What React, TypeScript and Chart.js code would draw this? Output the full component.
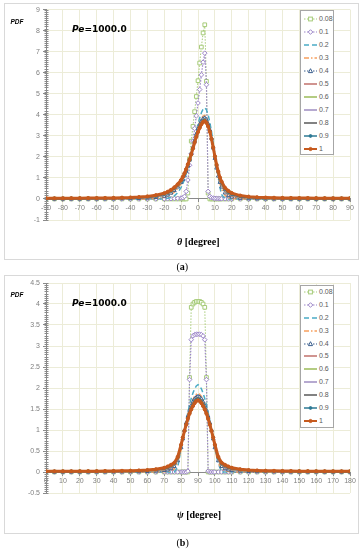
import React, { useEffect, useRef } from "react";
import { Chart, registerables } from "chart.js";

Chart.register(...registerables);

// ---------- data ----------
const seriesLabels = ["0.08", "0.1", "0.2", "0.3", "0.4", "0.5", "0.6", "0.7", "0.8", "0.9", "1"];

// panel (a): theta [degree]
const thetaDeg = [-90, -85, -80, -75, -70, -65, -60, -55, -50, -45, -40, -35, -30, -25, -20,
  -18, -16, -14, -12, -10,
  -9, -8, -7, -6, -5, -4, -3, -2, -1, 0, 1, 2, 3, 4, 5, 6, 7, 8, 9, 10, 11, 12, 13, 14,
  16, 18, 20,
  25, 30, 35, 40, 45, 50, 55, 60, 65, 70, 75, 80, 85, 90];

const thetaS008 = [0, 0, 0, 0, 0, 0, 0, 0, 0, 0, 0, 0, 0, 0, 0,
  0, 0, 0, 0, 0,
  0, 0, 0, 0.28, 1.9, 2.75, 3.45, 4.15, 4.87, 5.62, 6.46, 7.22, 7.89, 8.28, 5.59, 0.28, 0, 0, 0, 0, 0, 0, 0, 0,
  0, 0, 0,
  0, 0, 0, 0, 0, 0, 0, 0, 0, 0, 0, 0, 0, 0];
const thetaS01 = [0, 0, 0, 0, 0, 0, 0, 0, 0, 0, 0, 0, 0, 0, 0.005,
  0.008, 0.012, 0.02, 0.03, 0.045,
  0.06, 0.12, 0.36, 0.9, 1.6, 2.15, 2.75, 3.35, 3.95, 4.56, 5.2, 5.9, 6.5, 6.93, 5.43, 0.36, 0.12, 0.06, 0.04, 0.03, 0.02, 0.015, 0.01, 0.008,
  0.005, 0, 0,
  0, 0, 0, 0, 0, 0, 0, 0, 0, 0, 0, 0, 0, 0];
const thetaS02 = [0, 0, 0, 0, 0, 0, 0, 0, 0, 0, 0, 0, 0, 0, 0.01,
  0.03, 0.07, 0.15, 0.3, 0.55,
  0.72, 0.93, 1.18, 1.47, 1.79, 2.13, 2.5, 2.87, 3.23, 3.56, 3.85, 4.1, 4.27, 4.33, 4.24, 4.0, 3.64, 3.2, 2.68, 2.12, 1.55, 1.02, 0.55, 0.2,
  0.02, 0, 0,
  0, 0, 0, 0, 0, 0, 0, 0, 0, 0, 0, 0, 0, 0];
const thetaS03 = [0, 0, 0, 0, 0, 0, 0, 0, 0, 0, 0, 0, 0.005, 0.02, 0.07,
  0.12, 0.2, 0.32, 0.5, 0.73,
  0.88, 1.07, 1.3, 1.56, 1.85, 2.16, 2.49, 2.82, 3.14, 3.42, 3.65, 3.83, 3.94, 3.97, 3.88, 3.66, 3.35, 2.95, 2.46, 1.95, 1.46, 1.05, 0.72, 0.47,
  0.18, 0.06, 0.02,
  0, 0, 0, 0, 0, 0, 0, 0, 0, 0, 0, 0, 0, 0];
const thetaS04 = [0.002, 0.002, 0.003, 0.003, 0.004, 0.005, 0.006, 0.008, 0.01, 0.013, 0.018, 0.026, 0.04, 0.07, 0.13,
  0.19, 0.28, 0.4, 0.57, 0.78,
  0.92, 1.1, 1.32, 1.57, 1.85, 2.15, 2.46, 2.78, 3.08, 3.33, 3.55, 3.71, 3.81, 3.85, 3.77, 3.57, 3.28, 2.89, 2.42, 1.93, 1.47, 1.09, 0.79, 0.57,
  0.29, 0.16, 0.09,
  0.03, 0.015, 0.008, 0.005, 0.004, 0.003, 0.002, 0.002, 0.002, 0.001, 0.001, 0.001, 0.001, 0.001];
const thetaS05 = [0.004, 0.004, 0.005, 0.006, 0.007, 0.009, 0.011, 0.014, 0.017, 0.022, 0.029, 0.04, 0.062, 0.1, 0.17,
  0.23, 0.32, 0.44, 0.6, 0.8,
  0.94, 1.12, 1.33, 1.58, 1.85, 2.14, 2.45, 2.76, 3.05, 3.3, 3.51, 3.68, 3.78, 3.82, 3.74, 3.54, 3.26, 2.88, 2.42, 1.95, 1.51, 1.14, 0.85, 0.64,
  0.36, 0.22, 0.14,
  0.06, 0.04, 0.03, 0.022, 0.018, 0.015, 0.013, 0.011, 0.01, 0.009, 0.008, 0.007, 0.006, 0.005];
const thetaS06 = [0.005, 0.005, 0.006, 0.007, 0.009, 0.011, 0.013, 0.016, 0.02, 0.025, 0.032, 0.045, 0.07, 0.11, 0.19,
  0.25, 0.34, 0.46, 0.62, 0.82,
  0.96, 1.14, 1.35, 1.6, 1.86, 2.14, 2.44, 2.74, 3.02, 3.27, 3.48, 3.65, 3.76, 3.8, 3.72, 3.52, 3.25, 2.87, 2.43, 1.97, 1.54, 1.18, 0.89, 0.68,
  0.39, 0.25, 0.17,
  0.08, 0.05, 0.036, 0.027, 0.021, 0.017, 0.015, 0.013, 0.011, 0.01, 0.009, 0.008, 0.007, 0.006];
const thetaS07 = [0.006, 0.006, 0.008, 0.009, 0.011, 0.013, 0.015, 0.018, 0.022, 0.027, 0.035, 0.05, 0.075, 0.12, 0.2,
  0.27, 0.36, 0.48, 0.64, 0.84,
  0.98, 1.16, 1.37, 1.61, 1.86, 2.13, 2.42, 2.72, 3.0, 3.25, 3.46, 3.63, 3.74, 3.78, 3.7, 3.51, 3.24, 2.87, 2.44, 1.99, 1.56, 1.2, 0.92, 0.71,
  0.42, 0.28, 0.19,
  0.09, 0.06, 0.042, 0.031, 0.025, 0.02, 0.017, 0.015, 0.013, 0.011, 0.01, 0.009, 0.008, 0.007];
const thetaS08 = [0.008, 0.008, 0.01, 0.011, 0.013, 0.016, 0.018, 0.021, 0.025, 0.03, 0.04, 0.055, 0.08, 0.13, 0.22,
  0.29, 0.38, 0.5, 0.66, 0.86,
  1.0, 1.18, 1.39, 1.62, 1.86, 2.12, 2.41, 2.7, 2.98, 3.23, 3.44, 3.61, 3.72, 3.76, 3.68, 3.5, 3.23, 2.87, 2.45, 2.01, 1.58, 1.23, 0.95, 0.74,
  0.45, 0.3, 0.21,
  0.1, 0.07, 0.048, 0.035, 0.028, 0.023, 0.019, 0.017, 0.015, 0.013, 0.011, 0.01, 0.009, 0.008];
const thetaS09 = [0.01, 0.01, 0.012, 0.014, 0.016, 0.02, 0.022, 0.025, 0.03, 0.035, 0.045, 0.06, 0.09, 0.14, 0.23,
  0.3, 0.39, 0.51, 0.67, 0.87,
  1.02, 1.2, 1.4, 1.63, 1.87, 2.12, 2.4, 2.69, 2.97, 3.21, 3.42, 3.59, 3.7, 3.74, 3.66, 3.48, 3.22, 2.86, 2.45, 2.02, 1.6, 1.26, 0.98, 0.77,
  0.48, 0.33, 0.23,
  0.12, 0.08, 0.055, 0.04, 0.032, 0.027, 0.022, 0.02, 0.018, 0.015, 0.013, 0.012, 0.011, 0.01];
const thetaS1 = [0.03, 0.03, 0.03, 0.035, 0.035, 0.04, 0.04, 0.045, 0.05, 0.06, 0.07, 0.09, 0.12, 0.18, 0.27,
  0.34, 0.43, 0.55, 0.7, 0.9,
  1.05, 1.22, 1.42, 1.65, 1.88, 2.12, 2.4, 2.68, 2.95, 3.18, 3.38, 3.55, 3.66, 3.7, 3.62, 3.45, 3.2, 2.85, 2.45, 2.03, 1.63, 1.3, 1.02, 0.82,
  0.53, 0.38, 0.28,
  0.16, 0.11, 0.08, 0.065, 0.055, 0.05, 0.045, 0.04, 0.04, 0.035, 0.035, 0.03, 0.03, 0.03];

// panel (b): psi [degree]
const psiDeg = [0, 5, 10, 15, 20, 25, 30, 35, 40, 45, 50, 55, 60, 65, 70,
  72, 74, 76, 78, 80,
  81, 82, 83, 84, 85, 86, 87, 88, 89, 90, 91, 92, 93, 94, 95, 96, 97, 98, 99,
  100, 102, 104, 106, 108,
  110, 115, 120, 125, 130, 135, 140, 145, 150, 155, 160, 165, 170, 175, 180];

const psiS008 = [0, 0, 0, 0, 0, 0, 0, 0, 0, 0, 0, 0, 0, 0, 0,
  0, 0, 0, 0, 0,
  0, 0, 0, 0, 2.25, 3.92, 4.0, 4.04, 4.06, 4.06, 4.06, 4.04, 4.0, 3.92, 2.25, 0, 0, 0, 0,
  0, 0, 0, 0, 0,
  0, 0, 0, 0, 0, 0, 0, 0, 0, 0, 0, 0, 0, 0, 0];
const psiS01 = [0, 0, 0, 0, 0, 0, 0, 0, 0, 0, 0, 0, 0, 0, 0,
  0, 0, 0, 0, 0,
  0, 0, 0, 0.02, 2.2, 3.15, 3.24, 3.27, 3.28, 3.28, 3.28, 3.27, 3.24, 3.15, 2.2, 0.02, 0, 0, 0,
  0, 0, 0, 0, 0,
  0, 0, 0, 0, 0, 0, 0, 0, 0, 0, 0, 0, 0, 0, 0];
const psiS02 = [0, 0, 0, 0, 0, 0, 0, 0, 0, 0, 0, 0, 0, 0, 0,
  0, 0, 0, 0.12, 0.55,
  0.78, 1.0, 1.22, 1.42, 1.6, 1.75, 1.88, 1.98, 2.05, 2.08, 2.05, 1.98, 1.88, 1.75, 1.6, 1.42, 1.22, 1.0, 0.78,
  0.55, 0.2, 0, 0, 0,
  0, 0, 0, 0, 0, 0, 0, 0, 0, 0, 0, 0, 0, 0, 0];
const psiS03 = [0, 0, 0, 0, 0, 0, 0, 0, 0, 0, 0, 0, 0, 0, 0.005,
  0.01, 0.03, 0.08, 0.22, 0.52,
  0.74, 0.96, 1.16, 1.34, 1.5, 1.63, 1.73, 1.8, 1.85, 1.87, 1.85, 1.8, 1.73, 1.63, 1.5, 1.34, 1.16, 0.96, 0.74,
  0.52, 0.22, 0.08, 0.03, 0.01,
  0.005, 0, 0, 0, 0, 0, 0, 0, 0, 0, 0, 0, 0, 0, 0];
const psiS04 = [0.001, 0.001, 0.001, 0.002, 0.002, 0.002, 0.003, 0.003, 0.004, 0.005, 0.007, 0.009, 0.013, 0.02, 0.035,
  0.05, 0.08, 0.13, 0.27, 0.58,
  0.79, 0.99, 1.17, 1.33, 1.47, 1.58, 1.67, 1.74, 1.78, 1.8, 1.78, 1.74, 1.67, 1.58, 1.47, 1.33, 1.17, 0.99, 0.79,
  0.58, 0.27, 0.13, 0.08, 0.05,
  0.035, 0.02, 0.013, 0.009, 0.007, 0.005, 0.004, 0.003, 0.003, 0.002, 0.002, 0.002, 0.001, 0.001, 0.001];
const psiS05 = [0.003, 0.003, 0.003, 0.004, 0.004, 0.005, 0.006, 0.007, 0.008, 0.01, 0.012, 0.015, 0.02, 0.03, 0.05,
  0.07, 0.1, 0.16, 0.3, 0.6,
  0.8, 0.99, 1.16, 1.32, 1.45, 1.56, 1.65, 1.72, 1.76, 1.78, 1.76, 1.72, 1.65, 1.56, 1.45, 1.32, 1.16, 0.99, 0.8,
  0.6, 0.3, 0.16, 0.1, 0.07,
  0.05, 0.03, 0.02, 0.015, 0.012, 0.01, 0.008, 0.007, 0.006, 0.005, 0.004, 0.004, 0.003, 0.003, 0.003];
const psiS06 = [0.004, 0.004, 0.004, 0.005, 0.006, 0.006, 0.007, 0.008, 0.01, 0.012, 0.014, 0.018, 0.024, 0.036, 0.058,
  0.08, 0.12, 0.17, 0.31, 0.61,
  0.81, 0.99, 1.16, 1.31, 1.44, 1.55, 1.64, 1.71, 1.75, 1.77, 1.75, 1.71, 1.64, 1.55, 1.44, 1.31, 1.16, 0.99, 0.81,
  0.61, 0.31, 0.17, 0.12, 0.08,
  0.058, 0.036, 0.024, 0.018, 0.014, 0.012, 0.01, 0.008, 0.007, 0.006, 0.006, 0.005, 0.004, 0.004, 0.004];
const psiS07 = [0.005, 0.005, 0.006, 0.006, 0.007, 0.008, 0.009, 0.01, 0.012, 0.014, 0.017, 0.022, 0.028, 0.042, 0.066,
  0.09, 0.13, 0.18, 0.32, 0.62,
  0.81, 0.99, 1.15, 1.3, 1.43, 1.54, 1.63, 1.7, 1.74, 1.76, 1.74, 1.7, 1.63, 1.54, 1.43, 1.3, 1.15, 0.99, 0.81,
  0.62, 0.32, 0.18, 0.13, 0.09,
  0.066, 0.042, 0.028, 0.022, 0.017, 0.014, 0.012, 0.01, 0.009, 0.008, 0.007, 0.006, 0.006, 0.005, 0.005];
const psiS08 = [0.006, 0.006, 0.007, 0.008, 0.009, 0.01, 0.011, 0.012, 0.014, 0.017, 0.02, 0.026, 0.033, 0.048, 0.075,
  0.1, 0.14, 0.19, 0.33, 0.63,
  0.82, 0.99, 1.15, 1.3, 1.42, 1.53, 1.62, 1.69, 1.73, 1.75, 1.73, 1.69, 1.62, 1.53, 1.42, 1.3, 1.15, 0.99, 0.82,
  0.63, 0.33, 0.19, 0.14, 0.1,
  0.075, 0.048, 0.033, 0.026, 0.02, 0.017, 0.014, 0.012, 0.011, 0.01, 0.009, 0.008, 0.007, 0.006, 0.006];
const psiS09 = [0.008, 0.008, 0.009, 0.01, 0.011, 0.012, 0.013, 0.015, 0.017, 0.02, 0.024, 0.03, 0.038, 0.055, 0.085,
  0.11, 0.15, 0.2, 0.34, 0.64,
  0.82, 0.99, 1.14, 1.29, 1.41, 1.52, 1.6, 1.67, 1.72, 1.74, 1.72, 1.67, 1.6, 1.52, 1.41, 1.29, 1.14, 0.99, 0.82,
  0.64, 0.34, 0.2, 0.15, 0.11,
  0.085, 0.055, 0.038, 0.03, 0.024, 0.02, 0.017, 0.015, 0.013, 0.012, 0.011, 0.01, 0.009, 0.008, 0.008];
const psiS1 = [0.015, 0.015, 0.016, 0.017, 0.018, 0.019, 0.02, 0.022, 0.024, 0.027, 0.03, 0.036, 0.045, 0.065, 0.1,
  0.13, 0.17, 0.22, 0.36, 0.65,
  0.82, 0.98, 1.13, 1.27, 1.39, 1.49, 1.57, 1.64, 1.69, 1.71, 1.69, 1.64, 1.57, 1.49, 1.39, 1.27, 1.13, 0.98, 0.82,
  0.65, 0.36, 0.22, 0.17, 0.13,
  0.1, 0.065, 0.045, 0.036, 0.03, 0.027, 0.024, 0.022, 0.02, 0.019, 0.018, 0.017, 0.016, 0.015, 0.015];

// axis ranges [min, max, step]
const thetaAxis = [-90, 90, 10];
const pdfAxisA = [-1, 9, 1];
const psiAxis = [0, 180, 10];
const pdfAxisB = [-0.5, 4.5, 0.5];

// ---------- styles ----------
type SStyle = { color: string; width: number; dash: number[]; point?: string; r?: number; fill?: string; lr?: number };
const seriesStyles: SStyle[] = [
  { color: "#A6CB78", width: 1, dash: [1.5, 1.5], point: "rect", r: 2.6, fill: "#ffffff", lr: 2.6 },
  { color: "#9C86C8", width: 1.2, dash: [1.5, 1.5], point: "rectRot", r: 2.3, fill: "#ffffff", lr: 2.3 },
  { color: "#4BACC6", width: 1.5, dash: [5, 3] },
  { color: "#F7A05E", width: 1.5, dash: [5, 2, 1.5, 2] },
  { color: "#3B5F8E", width: 1.2, dash: [1.5, 1.5], point: "triangle", r: 2.1, fill: "#ffffff", lr: 2.3 },
  { color: "#C0706B", width: 1.5, dash: [] },
  { color: "#9BBB59", width: 1.5, dash: [] },
  { color: "#9E8DC0", width: 1.5, dash: [] },
  { color: "#595959", width: 1.5, dash: [] },
  { color: "#2E7A95", width: 1.5, dash: [], point: "circle", r: 1.4, fill: "#2E7A95", lr: 1.4 },
  { color: "#C65A1E", width: 3, dash: [], point: "circle", r: 1.6, fill: "#C65A1E", lr: 1.6 },
];

const GRID = "#ECECD8";
const AXIS = "#8a8a8a";
const TICKTXT = "#7f7f7f";

const minorTicks = {
  id: "minorTicks",
  beforeDatasetsDraw(chart: any, _a: any, opts: any) {
    const y = chart.scales.y;
    const ctx = chart.ctx;
    const step = opts.step;
    const n = Math.round((y.max - y.min) / step);
    ctx.save();
    ctx.strokeStyle = AXIS;
    ctx.lineWidth = 1;
    ctx.beginPath();
    const xl = Math.round(chart.chartArea.left) + 0.5;
    for (let i = 0; i <= n; i++) {
      const py = Math.round(y.getPixelForValue(y.min + i * step)) + 0.5;
      ctx.moveTo(xl - 2, py);
      ctx.lineTo(xl + 2, py);
    }
    ctx.stroke();
    ctx.restore();
  },
};

function zeroPad(scale: any) {
  scale.paddingLeft = 0;
  scale.paddingRight = 0;
  scale.paddingTop = 0;
  scale.paddingBottom = 0;
}

type PanelCfg = {
  xs: number[];
  series: number[][];
  xAxis: number[];
  yAxis: number[];
  boxTop: number;
  boxH: number;
  padTop: number;
  padBottom: number;
  minorStep: number;
};

function ChartPanel({ cfg }: { cfg: PanelCfg }) {
  const ref = useRef<HTMLCanvasElement>(null);
  const innerH = cfg.boxH - 2;
  useEffect(() => {
    const datasets = seriesLabels.map((lab, i) => {
      const s = seriesStyles[i];
      return {
        label: lab,
        data: cfg.xs.map((x, j) => ({ x, y: cfg.series[i][j] })),
        borderColor: s.color,
        backgroundColor: s.color,
        borderWidth: s.width,
        borderDash: s.dash,
        pointStyle: s.point || "circle",
        pointRadius: s.point ? s.r : 0,
        pointBorderColor: s.color,
        pointBackgroundColor: s.fill || s.color,
        pointBorderWidth: 1,
        tension: 0,
        fill: false,
        order: seriesLabels.length - i,
      };
    });
    const tickFont = { family: "'Liberation Sans', Arial, sans-serif", size: 7 };
    const chart = new Chart(ref.current as HTMLCanvasElement, {
      type: "line",
      data: { datasets: datasets as any },
      plugins: [minorTicks as any],
      options: {
        responsive: false,
        animation: false,
        devicePixelRatio: 1,
        layout: { padding: { left: 0, right: 8, top: cfg.padTop, bottom: cfg.padBottom } },
        plugins: {
          legend: { display: false },
          tooltip: { enabled: false },
          minorTicks: { step: cfg.minorStep },
        } as any,
        scales: {
          x: {
            type: "linear",
            min: cfg.xAxis[0],
            max: cfg.xAxis[1],
            position: { y: 0 } as any,
            ticks: {
              stepSize: cfg.xAxis[2],
              autoSkip: false,
              maxRotation: 0,
              font: tickFont,
              color: TICKTXT,
              padding: 2,
              callback: (v: any) => String(v),
            },
            grid: { color: GRID, tickLength: 3, tickColor: AXIS },
            border: { color: AXIS, width: 1 },
            afterFit: zeroPad,
          },
          y: {
            type: "linear",
            position: "left",
            min: cfg.yAxis[0],
            max: cfg.yAxis[1],
            ticks: {
              stepSize: cfg.yAxis[2],
              font: tickFont,
              color: TICKTXT,
              padding: 3,
              callback: (v: any) => String(v),
            },
            grid: { color: GRID, tickLength: 3, tickColor: AXIS },
            border: { color: AXIS, width: 1 },
            afterFit: (scale: any) => {
              zeroPad(scale);
              scale.width = 41;
            },
          },
        },
      } as any,
    });
    return () => chart.destroy();
  }, []);
  return (
    <div
      style={{
        position: "absolute",
        left: 4,
        top: cfg.boxTop,
        width: 353,
        height: innerH,
        border: "1px solid #d9d9d9",
        background: "#fff",
      }}
    >
      <canvas ref={ref} width={353} height={innerH} style={{ display: "block", width: 353, height: innerH }} />
    </div>
  );
}

function LegendIcon({ s }: { s: SStyle }) {
  const cx = 6.5, cy = 5;
  const r = s.lr || 2;
  let marker: any = null;
  if (s.point === "rect") {
    marker = <rect x={cx - 1.9} y={cy - 1.9} width={3.8} height={3.8} fill={s.fill} stroke={s.color} strokeWidth={1} />;
  } else if (s.point === "rectRot") {
    marker = <polygon points={`${cx},${cy - r} ${cx + r},${cy} ${cx},${cy + r} ${cx - r},${cy}`} fill={s.fill} stroke={s.color} strokeWidth={1} />;
  } else if (s.point === "triangle") {
    marker = <polygon points={`${cx},${cy - r} ${cx + r * 0.9},${cy + r * 0.7} ${cx - r * 0.9},${cy + r * 0.7}`} fill={s.fill} stroke={s.color} strokeWidth={1} />;
  } else if (s.point === "circle") {
    marker = <circle cx={cx} cy={cy} r={r} fill={s.fill} stroke={s.color} strokeWidth={1} />;
  }
  return (
    <svg width={13} height={10} style={{ display: "block" }}>
      <line x1={0} y1={cy} x2={13} y2={cy} stroke={s.color} strokeWidth={Math.min(s.width, 2)} strokeDasharray={s.dash.length ? s.dash.join(" ") : undefined} />
      {marker}
    </svg>
  );
}

function LegendBox({ left, top, height, first, step }: { left: number; top: number; height: number; first: number; step: number }) {
  return (
    <div
      style={{
        position: "absolute",
        left,
        top,
        width: 32,
        height: height - 2,
        border: "1px solid #a6a6a6",
        background: "#fff",
      }}
    >
      {seriesLabels.map((lab, i) => (
        <div
          key={lab}
          style={{
            position: "absolute",
            left: 3,
            top: first + i * step - 1 - 5,
            height: 10,
            display: "flex",
            alignItems: "center",
          }}
        >
          <LegendIcon s={seriesStyles[i]} />
          <span
            style={{
              marginLeft: 2,
              fontFamily: "'Liberation Sans', Arial, sans-serif",
              fontSize: 7,
              lineHeight: "10px",
              color: "#595959",
              whiteSpace: "nowrap",
            }}
          >
            {lab}
          </span>
        </div>
      ))}
    </div>
  );
}

function Annotations({ pdfY, peY, titleY, capY, sym, cap }: { pdfY: number; peY: number; titleY: number; capY: number; sym: string; cap: string }) {
  return (
    <>
      <div
        style={{
          position: "absolute",
          left: 10.5,
          top: pdfY - 3.3,
          fontFamily: "'Liberation Sans', Arial, sans-serif",
          fontStyle: "italic",
          fontWeight: "bold",
          fontSize: 6.5,
          lineHeight: 1,
          color: "#000",
        }}
      >
        PDF
      </div>
      <div
        style={{
          position: "absolute",
          left: 72,
          top: peY - 4.4,
          fontFamily: "'DejaVu Sans', sans-serif",
          fontWeight: "bold",
          fontSize: 9,
          lineHeight: 1,
          color: "#000",
          whiteSpace: "nowrap",
        }}
      >
        <i>Pe</i>=1000.0
      </div>
      <div
        style={{
          position: "absolute",
          left: 177,
          top: titleY - 5,
          fontFamily: "'Liberation Serif', 'Times New Roman', serif",
          fontWeight: "bold",
          fontSize: 10,
          lineHeight: 1,
          color: "#000",
          whiteSpace: "nowrap",
        }}
      >
        <i>{sym}</i> [degree]
      </div>
      <div
        style={{
          position: "absolute",
          left: 176.5,
          top: capY - 5,
          fontFamily: "'Liberation Serif', 'Times New Roman', serif",
          fontSize: 10,
          lineHeight: 1,
          color: "#000",
          whiteSpace: "nowrap",
        }}
      >
        (<b>{cap}</b>)
      </div>
    </>
  );
}

const panelA: PanelCfg = {
  xs: thetaDeg,
  series: [thetaS008, thetaS01, thetaS02, thetaS03, thetaS04, thetaS05, thetaS06, thetaS07, thetaS08, thetaS09, thetaS1],
  xAxis: thetaAxis,
  yAxis: pdfAxisA,
  boxTop: 3,
  boxH: 257,
  padTop: 5.6,
  padBottom: 39,
  minorStep: 0.1,
};

const panelB: PanelCfg = {
  xs: psiDeg,
  series: [psiS008, psiS01, psiS02, psiS03, psiS04, psiS05, psiS06, psiS07, psiS08, psiS09, psiS1],
  xAxis: psiAxis,
  yAxis: pdfAxisB,
  boxTop: 275,
  boxH: 259,
  padTop: 7,
  padBottom: 40,
  minorStep: 0.05,
};

export default function App() {
  return (
    <div
      style={{
        position: "fixed",
        left: 0,
        top: 0,
        width: 363,
        height: 550,
        background: "#fff",
        overflow: "hidden",
      }}
    >
      <ChartPanel cfg={panelA} />
      <LegendBox left={300} top={10} height={145} first={9} step={12.95} />
      <Annotations pdfY={22} peY={29.2} titleY={242} capY={267} sym="θ" cap="a" />
      <ChartPanel cfg={panelB} />
      <LegendBox left={300} top={285} height={143} first={6.7} step={12.95} />
      <Annotations pdfY={295.7} peY={303.3} titleY={515} capY={543} sym="ψ" cap="b" />
    </div>
  );
}
